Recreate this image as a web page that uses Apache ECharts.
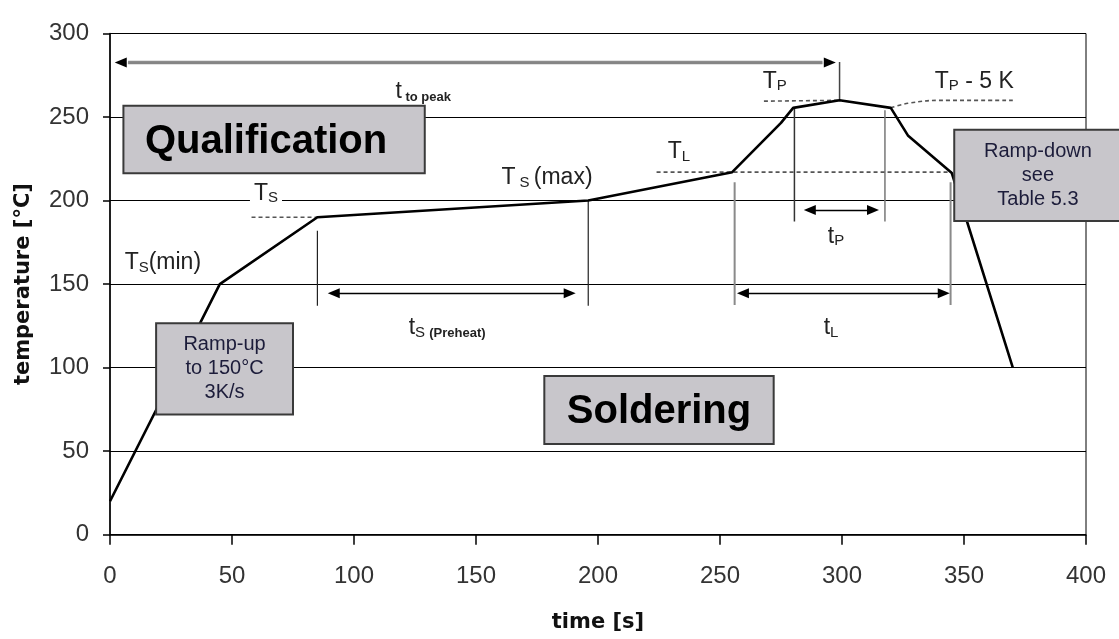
<!DOCTYPE html>
<html>
<head>
<meta charset="utf-8">
<title>Reflow soldering profile</title>
<script src="https://cdn.jsdelivr.net/npm/echarts@6/dist/echarts.min.js"></script>
<style>
  html, body { margin: 0; padding: 0; background: #fff; }
  #chart { width: 1119px; height: 639px; }
</style>
</head>
<body>
<div id="chart"></div>
<script>
// axis ticks
const timeTicks = [0, 50, 100, 150, 200, 250, 300, 350, 400];
const tempTicks = [0, 50, 100, 150, 200, 250, 300];

// the profile itself (time in s, temperature in °C)
const profileTime = [0, 45, 85, 196, 255, 275, 280, 299, 320, 327, 345, 370];
const profileTemp = [20, 150, 190, 200, 217, 246.5, 255.5, 260, 255.5, 239, 216.5, 100];

// dashed reference levels
const dashTsTime = [58, 85];
const dashTsTemp = [190, 190];
const dashTlTime = [224, 345];
const dashTlTemp = [217, 217];
const dashTpTime = [268, 299];
const dashTpTemp = [259.5, 260];
const dashTp5Time = [320, 327, 340, 370];
const dashTp5Temp = [255.5, 258.2, 260, 260];

// vertical marker lines
const markTime = [85, 196, 256, 344.5, 280.5, 317.6, 299];
const markLow = [137, 137, 137.5, 137.5, 187.4, 187.4, 260];
const markHigh = [182, 200, 211, 211, 256, 254, 283];

// double arrows
const arrowFrom = [4.4, 91.7, 286.8, 259.4];
const arrowTo = [295, 188.4, 312.7, 341.7];
const arrowTemp = [282.6, 144.5, 194.4, 144.5];

// text labels (left edge time, middle temperature)
const labelTime = [117, 59, 6, 160.4, 228.6, 267.5, 338, 122.4, 294.2, 292.5];
const labelTemp = [265.2, 204.4, 162.6, 213.5, 229, 271.1, 271.1, 123.7, 178.4, 123.7];
const labelText = [
  '{m|t}{sb| to peak}',
  '{m|T}{s|S}',
  '{m|T}{s|S}{m|(min)}',
  '{m|T}{s| S }{m|(max)}',
  '{m|T}{s|L}',
  '{m|T}{s|P}',
  '{m|T}{s|P}{m| - 5 K}',
  '{m|t}{s|S }{sb|(Preheat)}',
  '{m|t}{s|P}',
  '{m|t}{s|L}'
];

// grey boxes
const boxLeft = [5.5, 18.9, 178, 346];
const boxRight = [129, 75, 272, 414.6];
const boxTop = [256.7, 126.5, 95, 242.4];
const boxBottom = [216.3, 72, 54.3, 187.7];
const boxText = ['Qualification', 'Ramp-up\nto 150°C\n3K/s', 'Soldering', 'Ramp-down\nsee\nTable 5.3'];

const FONT = 'Liberation Sans, Arial, sans-serif';

function pairs(xs, ys) {
  return xs.map((x, i) => [x, ys[i]]);
}

function segment(data, color, width, type, z) {
  return {
    type: 'line', data: data, symbol: 'none', silent: true, z: z || 2,
    lineStyle: {color: color, width: width, type: type || 'solid'}
  };
}

const chart = echarts.init(document.getElementById('chart'));

const markStyle = [
  ['#222', 1.2], ['#222', 1.2], ['#8a8a8a', 2], ['#8a8a8a', 2],
  ['#333', 1.5], ['#777', 1.5], ['#444', 1.5]
];

const series = [];

// grey shaft of the "t to peak" arrow
series.push(segment([[arrowFrom[0] + 3, arrowTemp[0]], [arrowTo[0] - 3, arrowTemp[0]]], '#8c8c8c', 3.5));

markTime.forEach((t, i) => {
  series.push(segment([[t, markLow[i]], [t, markHigh[i]]], markStyle[i][0], markStyle[i][1]));
});

[[dashTsTime, dashTsTemp], [dashTlTime, dashTlTemp], [dashTpTime, dashTpTemp], [dashTp5Time, dashTp5Temp]]
  .forEach(d => {
    const s = segment(pairs(d[0], d[1]), '#555', 1.6, [4, 3]);
    series.push(s);
  });
series[series.length - 1].smooth = 0.4;

series.push({
  type: 'line',
  data: pairs(profileTime, profileTemp),
  symbol: 'none',
  z: 3,
  silent: true,
  lineStyle: {color: '#000', width: 2.6},
  markLine: {
    silent: true,
    symbol: ['triangle', 'triangle'],
    symbolSize: [10, 12],
    label: {show: false},
    lineStyle: {color: '#000', width: 1.4, type: 'solid'},
    data: arrowFrom.map((x, i) => [
      {coord: [x, arrowTemp[i]], lineStyle: i === 0 ? {width: 0.1} : {}},
      {coord: [arrowTo[i], arrowTemp[i]]}
    ])
  }
});

// boxes with their text
series.push({
  type: 'custom',
  z: 5,
  silent: true,
  clip: false,
  encode: {x: [0, 2], y: [1, 3]},
  data: boxLeft.map((x, i) => [x, boxTop[i], boxRight[i], boxBottom[i]]),
  renderItem: function (params, api) {
    const i = params.dataIndex;
    const a = api.coord([api.value(0), api.value(1)]);
    const b = api.coord([api.value(2), api.value(3)]);
    const big = i === 0 || i === 2;
    return {
      type: 'group',
      children: [{
        type: 'rect',
        shape: {x: a[0], y: a[1], width: b[0] - a[0], height: b[1] - a[1]},
        style: {fill: '#c8c6cb', stroke: '#3a3a3a', lineWidth: 2}
      }, {
        type: 'text',
        x: (a[0] + b[0]) / 2 - (i === 0 ? 8 : 0),
        y: (a[1] + b[1]) / 2 + (big ? 2 : 0),
        style: {
          text: boxText[i],
          align: 'center',
          verticalAlign: 'middle',
          fontFamily: FONT,
          fontSize: big ? 40 : 20,
          fontWeight: big ? 'bold' : 'normal',
          lineHeight: big ? 44 : 24,
          fill: big ? '#000' : '#1c1c3a'
        }
      }]
    };
  }
});

// T and t labels with subscripts
series.push({
  type: 'custom',
  z: 6,
  silent: true,
  clip: false,
  encode: {x: 0, y: 1},
  data: pairs(labelTime, labelTemp),
  renderItem: function (params, api) {
    const i = params.dataIndex;
    const p = api.coord([api.value(0), api.value(1)]);
    const style = {
      text: labelText[i],
      align: 'left',
      verticalAlign: 'middle',
      fill: '#222',
      rich: {
        m: {fontFamily: FONT, fontSize: 23, lineHeight: 24, fill: '#222'},
        s: {fontFamily: FONT, fontSize: 15, lineHeight: 12, verticalAlign: 'bottom', fill: '#222'},
        sb: {fontFamily: FONT, fontSize: 13, fontWeight: 'bold', lineHeight: 9, verticalAlign: 'bottom', fill: '#222'}
      }
    };
    if (i === 1) {
      style.backgroundColor = '#fff';
      style.padding = [0, 4];
    }
    return {type: 'text', x: p[0] - (i === 1 ? 4 : 0), y: p[1], style: style};
  }
});

chart.setOption({
  animation: false,
  backgroundColor: '#fff',
  grid: {
    left: 110, right: 33, top: 33.5, bottom: 104.3,
    show: true, borderColor: '#000', borderWidth: 1, containLabel: false
  },
  xAxis: {
    type: 'value',
    min: timeTicks[0],
    max: timeTicks[timeTicks.length - 1],
    interval: timeTicks[1] - timeTicks[0],
    name: 'time [s]',
    nameLocation: 'middle',
    nameGap: 77,
    nameTextStyle: {fontFamily: 'DejaVu Sans', fontWeight: 'bold', fontSize: 21, color: '#111'},
    axisLine: {lineStyle: {color: '#000', width: 1.5}},
    axisTick: {length: 10, lineStyle: {color: '#000', width: 1.5}},
    axisLabel: {fontFamily: FONT, fontSize: 24, color: '#333', margin: 30},
    splitLine: {show: false}
  },
  yAxis: {
    type: 'value',
    min: tempTicks[0],
    max: tempTicks[tempTicks.length - 1],
    interval: tempTicks[1] - tempTicks[0],
    name: 'temperature [°C]',
    nameLocation: 'middle',
    nameGap: 76,
    nameTextStyle: {fontFamily: 'DejaVu Sans', fontWeight: 'bold', fontSize: 21, color: '#111'},
    axisLine: {show: true, lineStyle: {color: '#000', width: 1.5}},
    axisTick: {show: true, length: 7, lineStyle: {color: '#000', width: 1.5}},
    axisLabel: {fontFamily: FONT, fontSize: 24, color: '#333', margin: 21},
    splitLine: {lineStyle: {color: '#000', width: 1}}
  },
  series: series
});
</script>
</body>
</html>
